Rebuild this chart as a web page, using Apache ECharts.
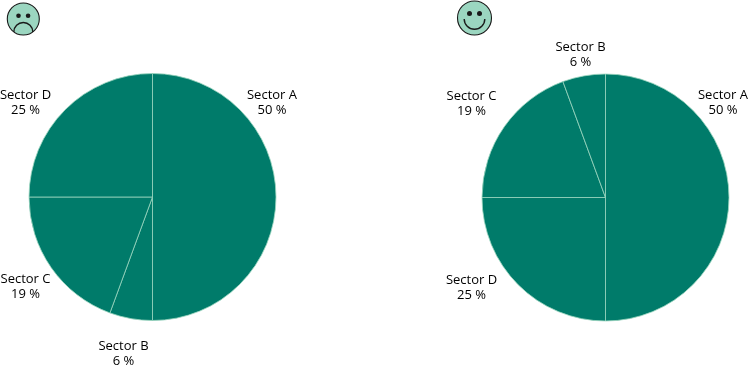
<!DOCTYPE html>
<html><head><meta charset="utf-8">
<style>html,body{margin:0;padding:0;background:#fff}#c{width:748px;height:369px}</style>
<script src="https://cdn.jsdelivr.net/npm/echarts@6/dist/echarts.min.js"></script></head>
<body><div id="c"></div>
<script>
const sectorsLeft = ['Sector A','Sector B','Sector C','Sector D'];
const valuesLeft = [50,5.6,19.4,25];
const sectorsRight = ['Sector A','Sector D','Sector C','Sector B'];
const valuesRight = [50,25,19.4,5.6];
const labelSpotsLeft = [[272,103],[123.5,354],[25.5,287],[25.5,103]];
const labelSpotsRight = [[723,103],[471.5,288],[471.5,104],[580.5,55]];
const FILL='#007b6a', EDGE='#9ad5bf', FACE='#9bd6c0', INK='#1a1a1a';
function pie(names,vals,center,spots){
  return {type:'pie',center:center,radius:[0,123.5],startAngle:90,clockwise:true,silent:true,animation:false,
    data:names.map((n,i)=>({name:n,value:vals[i]})),
    itemStyle:{color:FILL,borderColor:EDGE,borderWidth:0.8},
    label:{show:true,position:'outside',formatter:p=>p.name+'\n'+Math.round(p.value)+' %',overflow:'none',
      fontFamily:'Open Sans',fontSize:13,lineHeight:15,color:'#000',align:'center'},
    labelLine:{show:false},
    labelLayout:p=>({x:spots[p.dataIndex][0],y:spots[p.dataIndex][1],align:'center',verticalAlign:'middle',hideOverlap:false,moveOverlap:null})
  };
}
function face(cx,cy,r,eyeDx,eyeY,eyeR,mouth){
  return [
    {type:'circle',shape:{cx:cx,cy:cy,r:r},style:{fill:FACE,stroke:INK,lineWidth:1.1}},
    {type:'circle',shape:{cx:cx-eyeDx,cy:eyeY,r:eyeR},style:{fill:INK}},
    {type:'circle',shape:{cx:cx+eyeDx,cy:eyeY,r:eyeR},style:{fill:INK}},
    {type:'arc',shape:mouth,style:{stroke:INK,lineWidth:1.4,fill:'none'}}
  ];
}
const frown={cx:23.3,cy:32,r:9.5,startAngle:Math.PI,endAngle:0};
const smile={cx:474.5,cy:19,r:10.3,startAngle:0,endAngle:Math.PI};
const chart=echarts.init(document.getElementById('c'),null,{renderer:'canvas'});
chart.setOption({animation:false,
  series:[pie(sectorsLeft,valuesLeft,[152.5,197],labelSpotsLeft),pie(sectorsRight,valuesRight,[605.5,197.5],labelSpotsRight)],
  graphic:face(23.3,19,16,4.8,15.7,2.3,frown).concat(face(474.5,18,17,5,13.5,2.5,smile))
});
</script></body></html>
